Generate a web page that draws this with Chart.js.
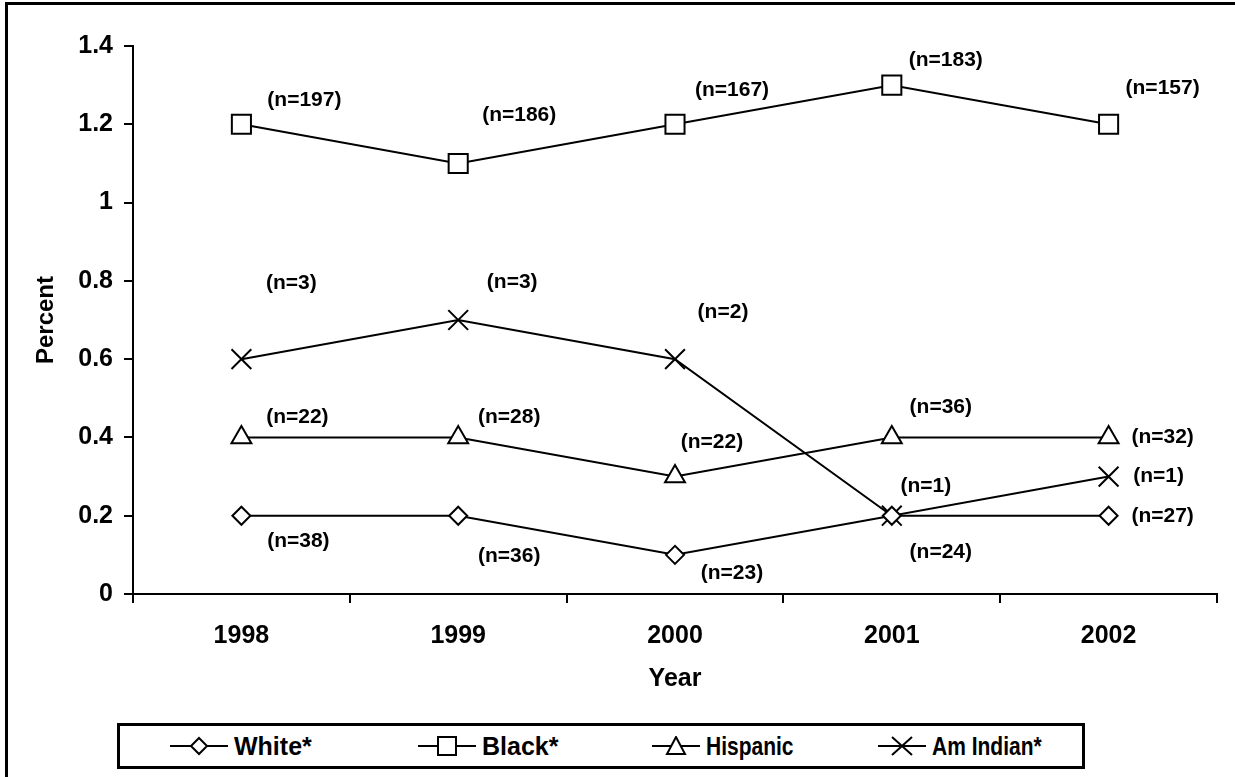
<!DOCTYPE html>
<html>
<head>
<meta charset="utf-8">
<script src="https://cdn.jsdelivr.net/npm/chart.js@4.4.0/dist/chart.umd.min.js"></script>
<style>
  body { margin: 0; background: #fff; font-family: "Liberation Sans", Arial, sans-serif; }
  #frame { position: absolute; left: 5px; top: 2px; width: 1230px; height: 775px;
           border-top: 3px solid #000; border-left: 3px solid #000; }
  #wrap { position: absolute; left: 0; top: 0; width: 1235px; height: 700px; }
  #legend { position: absolute; left: 117px; top: 723px; width: 968px; height: 46px;
            border: 3px solid #000; box-sizing: border-box; }
  .item { position: absolute; top: 0; height: 40px; display: flex; align-items: center;
          font-weight: bold; font-size: 25px; white-space: nowrap; }
  .item svg { margin-right: 6px; }
  .item span { display: inline-block; transform-origin: left center; }
</style>
</head>
<body>
<div id="frame"></div>
<div id="wrap"><canvas id="chart" width="1235" height="700"></canvas></div>
<div id="legend"></div>
<script>
var years = ['1998', '1999', '2000', '2001', '2002'];
var seriesNames = ['White*', 'Black*', 'Hispanic', 'Am Indian*'];
var white = [0.2, 0.2, 0.1, 0.2, 0.2];
var black = [1.2, 1.1, 1.2, 1.3, 1.2];
var hispanic = [0.4, 0.4, 0.3, 0.4, 0.4];
var amIndian = [0.6, 0.7, 0.6, 0.2, 0.3];
var whiteN = ['(n=38)', '(n=36)', '(n=23)', '(n=24)', '(n=27)'];
var blackN = ['(n=197)', '(n=186)', '(n=167)', '(n=183)', '(n=157)'];
var hispanicN = ['(n=22)', '(n=28)', '(n=22)', '(n=36)', '(n=32)'];
var amIndianN = ['(n=3)', '(n=3)', '(n=2)', '(n=1)', '(n=1)'];

// pixel offsets of each count label from its point
var labelOffsets = [
  [[57, 25], [51, 40], [57, 18], [49, 36], [54, 0]],
  [[63, -24], [61, -48], [57, -34], [54, -25], [54, -36]],
  [[56, -20], [51, -20], [37, -34], [49, -30], [54, 0]],
  [[50, -76], [54, -38], [48, -47], [34, -30], [50, 0]]
];
var counts = [whiteN, blackN, hispanicN, amIndianN];

var font = '"Liberation Sans", Arial, sans-serif';

function ds(label, data, style, r) {
  return {
    label: label, data: data,
    borderColor: '#000', borderWidth: 2,
    pointStyle: style, pointRadius: r, pointHoverRadius: r,
    pointBackgroundColor: '#fff', pointBorderColor: '#000', pointBorderWidth: 2,
    fill: false, tension: 0
  };
}

var countLabels = {
  id: 'countLabels',
  afterDatasetsDraw: function(chart) {
    var ctx = chart.ctx;
    ctx.save();
    ctx.font = 'bold 21px ' + font;
    ctx.fillStyle = '#000';
    ctx.textAlign = 'center';
    ctx.textBaseline = 'middle';
    chart.data.datasets.forEach(function(d, i) {
      chart.getDatasetMeta(i).data.forEach(function(pt, j) {
        var o = labelOffsets[i][j];
        ctx.fillText(counts[i][j], pt.x + o[0], pt.y + o[1]);
      });
    });
    ctx.restore();
  }
};

new Chart(document.getElementById('chart'), {
  type: 'line',
  data: {
    labels: years,
    datasets: [
      ds(seriesNames[0], white, 'rectRot', 9),
      ds(seriesNames[1], black, 'rect', 13.5),
      ds(seriesNames[2], hispanic, 'triangle', 11.5),
      ds(seriesNames[3], amIndian, 'crossRot', 14)
    ]
  },
  options: {
    responsive: false,
    animation: false,
    layout: { padding: { left: 28, right: 18, top: 46, bottom: 0 } },
    plugins: { legend: { display: false }, tooltip: { enabled: false } },
    scales: {
      x: {
        offset: true,
        grid: { offset: true, drawOnChartArea: false, drawTicks: true, tickLength: 9, color: '#000', lineWidth: 2 },
        border: { color: '#000', width: 2 },
        ticks: { color: '#000', font: { family: font, size: 25, weight: 'bold' }, padding: 18, maxRotation: 0 },
        title: { display: true, text: 'Year', color: '#000', font: { family: font, size: 25, weight: 'bold' }, padding: { top: 8, bottom: 6 } },
        afterFit: function(s) { s.height = 106; }
      },
      y: {
        min: 0, max: 1.4,
        grid: { drawOnChartArea: false, drawTicks: true, tickLength: 9, color: '#000', lineWidth: 2 },
        border: { color: '#000', width: 2 },
        ticks: { stepSize: 0.2, color: '#000', font: { family: font, size: 25, weight: 'bold' }, padding: 11,
                 callback: function(v) { return Math.round(v * 10) / 10; } },
        title: { display: true, text: 'Percent', color: '#000', font: { family: font, size: 24, weight: 'bold' }, padding: 4 },
        afterFit: function(s) { s.width = 105; }
      }
    }
  },
  plugins: [countLabels]
});

// legend
var icons = [
  '<polygon points="29,2 37,10 29,18 21,10" fill="#fff" stroke="#000" stroke-width="2"/>',
  '<rect x="20" y="1" width="18" height="18" fill="#fff" stroke="#000" stroke-width="2"/>',
  '<polygon points="24,1 33,18 15,18" fill="#fff" stroke="#000" stroke-width="2"/>',
  '<path d="M14,1 L34,19 M34,1 L14,19" stroke="#000" stroke-width="2"/>'
];
var legendX = [50, 298, 532, 758];
var iconW = [58, 58, 48, 48];
var squeeze = [1, 1, 0.84, 0.84];
var leg = document.getElementById('legend');
seriesNames.forEach(function(name, i) {
  var w = iconW[i];
  var el = document.createElement('div');
  el.className = 'item';
  el.style.left = legendX[i] + 'px';
  el.innerHTML = '<svg width="' + w + '" height="20" viewBox="0 0 ' + w + ' 20">' +
    '<line x1="0" y1="10" x2="' + w + '" y2="10" stroke="#000" stroke-width="2"/>' + icons[i] + '</svg>' +
    '<span style="transform:scaleX(' + squeeze[i] + ')">' + name + '</span>';
  leg.appendChild(el);
});
</script>
</body>
</html>
